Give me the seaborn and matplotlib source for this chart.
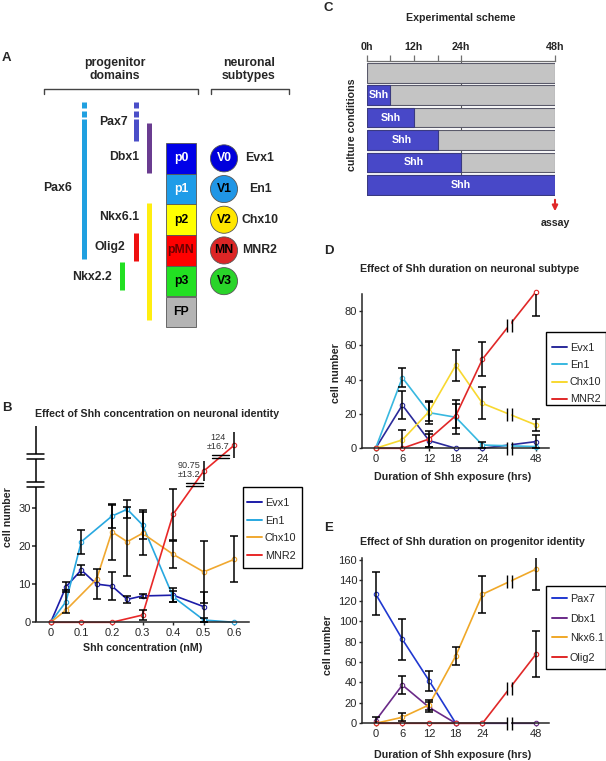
import matplotlib
matplotlib.use("Agg")
import matplotlib.pyplot as plt
from matplotlib.lines import Line2D
from matplotlib.patches import Rectangle, FancyArrowPatch
from matplotlib.transforms import blended_transform_factory
import numpy as np
import pandas as pd
import seaborn as sns

nan = np.nan

# ---------------- data -------------------------------------------------
# A: progenitor domains and neuronal subtypes
domains = ["p0", "p1", "p2", "pMN", "p3", "FP"]
domain_colors = ["#0000e8", "#1e9ce8", "#ffff00", "#ff0000", "#22e022", "#b4b4b4"]
domain_text_colors = ["white", "white", "black", "#6a0000", "black", "black"]
subtypes = ["V0", "V1", "V2", "MN", "V3"]
subtype_colors = ["#0000dc", "#2096e6", "#ffe600", "#dc2626", "#2ad42a"]
subtype_text_colors = ["white", "black", "black", "black", "black"]
subtype_genes = ["Evx1", "En1", "Chx10", "MNR2"]
genes = ["Pax6", "Pax7", "Dbx1", "Nkx6.1", "Olig2", "Nkx2.2"]
gene_start = [-1.34, -1.34, -0.65, 1.95, 2.93, 3.88]   # in domain rows, p0 = 0
gene_end = [3.78, -0.07, 0.98, 5.77, 3.84, 4.79]
gene_colors = ["#20a0e0", "#4a4ec8", "#6a3c90", "#ffee10", "#ee1010", "#22e022"]
gene_fading = [True, True, False, False, False, False]

# B: Shh concentration
shh_conc = [0, 0.05, 0.1, 0.15, 0.2, 0.25, 0.3, 0.4, 0.5, 0.6]
evx1_b = [0, 9.3, 13.7, 10.0, 9.5, 6.0, 6.9, 7.1, 4.1, nan]
evx1_b_err = [0, 1.3, 1.2, 4.0, 3.6, 1.0, 0.6, 1.8, 3.9, nan]
en1_b = [0, 5.4, 21.1, nan, 27.8, 29.6, 25.5, 6.7, 0.6, 0]
en1_b_err = [0, 3.0, 3.1, nan, 3.0, 2.4, 3.8, 1.5, 0.5, 0]
chx10_b = [0, 3.2, nan, 11.3, 23.7, 21.1, 23.3, 17.8, 13.2, 16.5]
chx10_b_err = [0, 0, nan, 0, 7.3, 9.0, 5.6, 3.5, 8.2, 6.0]
mnr2_b = [0, nan, 0, nan, 0, nan, 1.9, 28.3, 90.75, 124]
mnr2_b_err = [0, nan, 0, nan, 0, nan, 1.3, 6.7, 13.2, 16.7]

# C: scheme
shh_duration = [0, 6, 12, 18, 24, 48]
scheme_ticks = [0, 6, 12, 18, 24, 48]
scheme_labels = ["0h", "", "12h", "", "24h", "48h"]

# D: duration -> neuronal subtype
hours = [0, 6, 12, 18, 24, 48]
evx1_d = [0, 25.2, 4.5, 0, 0, 3.9]
evx1_d_err = [0, 8.0, 4.0, 0, 0, 3.9]
en1_d = [0, 41.2, 20.8, 18.1, 1.9, 1.0]
en1_d_err = [0, 5.6, 6.5, 10.0, 1.7, 0]
chx10_d = [0, 4.9, 21.4, 48.5, 26.2, 13.6]
chx10_d_err = [0, 6.0, 5.5, 9.0, 9.3, 3.4]
mnr2_d = [0, 0, 5.4, 19.0, 52.0, 91.3]
mnr2_d_err = [0, 0, 4.5, 7.0, 9.8, 14.0]

# E: duration -> progenitor identity
pax7_e = [126.7, 82.3, 41.8, 0, nan, nan]
pax7_e_err = [21, 20, 9.8, 0, nan, nan]
dbx1_e = [2.6, 37.5, 15.7, 0, 0, 0]
dbx1_e_err = [4.0, 8.5, 5.0, 0, 0, 0]
nkx61_e = [0, 5.9, 18.0, 66.0, 126.4, 150.9]
nkx61_e_err = [0, 4.0, 5.0, 8.5, 18.3, 20.3]
olig2_e = [0, 0, 0, 0, 0, 67.6]
olig2_e_err = [0, 0, 0, 0, 0, 22.5]

# ---------------- setup -------------------------------------------------
sns.set_style("ticks")
plt.rcParams["font.family"] = ["Liberation Sans", "DejaVu Sans"]

W, H = 606, 761
fig = plt.figure(figsize=(W / 100, H / 100), dpi=100)


def fx(x):
    return x / W


def fy(y):
    return 1 - y / H


def px_axes(x0, y0, x1, y1):
    return fig.add_axes([fx(x0), fy(y1), (x1 - x0) / W, (y1 - y0) / H])


def ftext(x, y, s, **kw):
    kw.setdefault("ha", "center")
    kw.setdefault("va", "center")
    fig.text(fx(x), fy(y), s, **kw)


def fig_seg(p0, p1, **kw):
    inv = fig.transFigure.inverted()
    (a, b), (c, d) = inv.transform([p0, p1])
    fig.add_artist(Line2D([a, c], [b, d], transform=fig.transFigure, **kw))


def break_marks(ax, x, y, half=6.5, gap=2.6):
    px, py = ax.transData.transform((x, y))
    fig_seg((px, py - half), (px, py + half), color="white", lw=gap * 1.3 * 0.72,
            solid_capstyle="butt", zorder=5)
    for s in (-1, 1):
        fig_seg((px + s * gap, py - half), (px + s * gap, py + half), color="black",
                lw=1.0, solid_capstyle="butt", zorder=6)


def legend_box(ax, names, colors, x0, y0, x1, y1, lx, ly, spacing):
    handles = [Line2D([], [], color=c, lw=1.4) for c in colors]
    ax.legend(handles, names, loc="upper left", bbox_to_anchor=(fx(lx), fy(ly)),
              bbox_transform=fig.transFigure, frameon=False, fontsize=7.8,
              handlelength=1.4, handletextpad=0.25, labelspacing=spacing,
              borderpad=0, borderaxespad=0)
    fig.add_artist(Rectangle((fx(x0), fy(y1)), (x1 - x0) / W, (y1 - y0) / H,
                             transform=fig.transFigure, fill=False, ec="black", lw=1.0))


def draw_series(ax, xs, vals, errs, color, cap=True):
    d = pd.DataFrame({"x": xs, "n": vals}).dropna()
    sns.lineplot(data=d, x="x", y="n", ax=ax, color=color, lw=1.2, errorbar=None,
                 marker="o", markersize=3.2, markerfacecolor="white",
                 markeredgecolor=color, markeredgewidth=0.8, clip_on=False, zorder=2)
    xs, vals, errs = np.asarray(xs, float), np.asarray(vals, float), np.asarray(errs, float)
    m = np.nan_to_num(errs) > 0
    if m.any():
        ax.errorbar(xs[m], vals[m], yerr=errs[m], fmt="none", ecolor="black",
                    elinewidth=1.1, capsize=3.2 if cap else 0, capthick=1.1, zorder=3)


bold = dict(fontweight="bold", fontsize=7.7)

# ---------------- panel letters ---------------------------------------------
for letter, x, y in [("A", 2, 58), ("B", 2, 408), ("C", 324, 8), ("D", 324, 251), ("E", 324, 528)]:
    ftext(x, y, letter, ha="left", fontweight="bold", fontsize=9.5)

# ---------------- A -------------------------------------------------------
axA = px_axes(0, 50, 300, 335)
axA.set_xlim(0, 300)
axA.set_ylim((335 - 143) / 30.7, (50 - 143) / 30.7)
axA.axis("off")
fsA = 8.8

rows = np.arange(len(domains))
axA.bar([181] * len(domains), [1] * len(domains), width=30, bottom=rows, align="center",
        color=domain_colors, edgecolor="#555555", lw=0.6)
for i, name in enumerate(domains):
    axA.text(181, i + 0.5, name, ha="center", va="center", color=domain_text_colors[i],
             fontweight="bold", fontsize=fsA)

axA.scatter([224] * len(subtypes), np.arange(len(subtypes)) + 0.5, s=380, c=subtype_colors,
            edgecolors="#555555", linewidths=0.6, zorder=3)
for i, name in enumerate(subtypes):
    axA.text(224, i + 0.5, name, ha="center", va="center", color=subtype_text_colors[i],
             fontweight="bold", fontsize=fsA, zorder=4)
for i, name in enumerate(subtype_genes):
    axA.text(260, i + 0.5, name, ha="center", va="center", fontweight="bold", fontsize=fsA)

gene_x = [84, 136, 149, 149, 136, 122]
label_x = [58, 128, 139, 139, 125, 112]
label_y = [1.47, -0.68, 0.46, 2.41, 3.39, 4.36]
for i, g in enumerate(genes):
    s, e = gene_start[i], gene_end[i]
    if gene_fading[i]:
        segs = [(s, s + 0.195), (s + 0.29, s + 0.49), (s + 0.55, e)]
    else:
        segs = [(s, e)]
    for a, b in segs:
        axA.vlines(gene_x[i], a, b, colors=gene_colors[i], lw=3.6)
    axA.text(label_x[i], label_y[i], g, ha="center" if i == 0 else "right", va="center",
             fontweight="bold", fontsize=fsA)

for (x0, x1), txt, cx in [((44, 198), "progenitor\ndomains", 115),
                          ((211, 289), "neuronal\nsubtypes", 249)]:
    axA.plot([x0, x0, x1, x1], [-1.6, -1.76, -1.76, -1.6], color="#444444", lw=1.0)
    axA.text(cx, -2.38, txt, ha="center", va="center", fontweight="bold", fontsize=fsA,
             linespacing=1.12)

# ---------------- B -------------------------------------------------------
BREAK_AT, BREAK_SCALE, BREAK_OFFSET = 35, 0.2045, 21.04


def squash(v):
    v = np.asarray(v, float)
    return np.where(v > BREAK_AT, BREAK_OFFSET + BREAK_SCALE * v, v)


axB = px_axes(36, 426, 249, 622.3)
axB.set_xlim(-0.048, 0.648)
axB.set_ylim(0, 51.4)

colors_b = ["#1c1ca8", "#28a8e0", "#f0a830", "#e82828"]
draw_series(axB, shh_conc, evx1_b, evx1_b_err, colors_b[0])
draw_series(axB, shh_conc, en1_b, en1_b_err, colors_b[1])
draw_series(axB, shh_conc, chx10_b, chx10_b_err, colors_b[2])

mnr2_arr = np.asarray(mnr2_b, float)
mnr2_err = np.asarray(mnr2_b_err, float)
low = np.nan_to_num(mnr2_arr) <= BREAK_AT
draw_series(axB, shh_conc, squash(mnr2_arr), np.where(low, mnr2_err, 0), colors_b[3])
xs_b = np.asarray(shh_conc, float)
hi = ~low
axB.vlines(xs_b[hi], squash(mnr2_arr[hi]) - BREAK_SCALE * mnr2_err[hi],
           squash(mnr2_arr[hi]) + BREAK_SCALE * mnr2_err[hi], color="black", lw=1.1,
           clip_on=False, zorder=3)
ok = ~np.isnan(mnr2_arr) & (xs_b >= 0.3)
for lo_y, hi_y in [(35.4, 36.7), (42.7, 44.0)]:
    mid = (lo_y + hi_y) / 2
    cx = np.interp(mid, squash(mnr2_arr[ok]), xs_b[ok])
    for yy in (mid - 0.35, mid + 0.35):
        axB.plot([cx - 0.028, cx + 0.028], [yy, yy], color="black", lw=1.0, zorder=4,
                 clip_on=False)
axB.text(0.489, 39.9, "90.75\n±13.2", ha="right", va="center", fontsize=6.6,
         color="#333333", linespacing=1.1)
axB.text(0.547, 47.2, "124\n±16.7", ha="center", va="center", fontsize=6.6,
         color="#333333", linespacing=1.1)

# manual broken y axis
trB = blended_transform_factory(axB.transAxes, axB.transData)
for a, b in [(0, 35.4), (36.7, 42.7), (44.0, 51.4)]:
    axB.plot([0, 0], [a, b], color="black", lw=1.1, transform=trB, clip_on=False,
             solid_capstyle="butt")
for yy in (35.4, 36.7, 42.7, 44.0):
    axB.plot([-0.042, 0.038], [yy, yy], color="black", lw=1.1, transform=trB, clip_on=False)

sns.despine(ax=axB, left=True)
axB.spines["bottom"].set_linewidth(1.1)
axB.set_xticks([0, 0.1, 0.2, 0.3, 0.4, 0.5, 0.6])
axB.set_xticklabels(["0", "0.1", "0.2", "0.3", "0.4", "0.5", "0.6"])
axB.set_yticks([0, 10, 20, 30])
axB.tick_params(axis="x", length=2, width=1.0, labelsize=8, pad=2)
axB.tick_params(axis="y", length=3, width=1.1, labelsize=8, pad=1)
axB.set_xlabel("")
axB.set_ylabel("")
legend_box(axB, ["Evx1", "En1", "Chx10", "MNR2"], colors_b, 243, 487, 302, 568, 247, 498, 0.7)
ftext(157, 414, "Effect of Shh concentration on neuronal identity", **bold)
ftext(143, 648, "Shh concentration (nM)", **bold)
ftext(8, 517, "cell number", rotation=90, **bold)

# ---------------- C -------------------------------------------------------
axC = px_axes(367, 61, 555, 196)
axC.set_xlim(0, 48)
axC.set_ylim(5.5, -0.525)
rows_c = np.arange(len(shh_duration))
axC.axvline(24, color="#555555", lw=0.8, zorder=0)
axC.barh(rows_c, [48] * len(rows_c), height=0.87, color="#c4c4c4", edgecolor="#5a5a6a",
         lw=0.8, zorder=1)
dur = np.asarray(shh_duration, float)
m = dur > 0
axC.barh(rows_c[m], dur[m], height=0.87, color="#4848c8", edgecolor="#3a3a80", lw=0.8, zorder=2)
for r, d in zip(rows_c[m], dur[m]):
    axC.text(d / 2, r, "Shh", ha="center", va="center", color="white", zorder=3, **bold)
for side in ["left", "right", "bottom"]:
    axC.spines[side].set_visible(False)
axC.spines["top"].set_color("#707070")
axC.spines["top"].set_linewidth(0.9)
axC.xaxis.tick_top()
axC.set_xticks(scheme_ticks)
axC.set_xticklabels(scheme_labels)
axC.set_yticks([])
axC.tick_params(axis="x", direction="out", length=4.5, width=0.9, color="#707070",
                labelsize=7.7, pad=2)
for t in axC.get_xticklabels():
    t.set_fontweight("bold")
ftext(461, 18, "Experimental scheme", **bold)
ftext(352, 125, "culture conditions", rotation=90, **bold)
fig.add_artist(FancyArrowPatch((fx(555), fy(197)), (fx(555), fy(214)),
               transform=fig.transFigure, arrowstyle="-|>", mutation_scale=8,
               color="#e02828", lw=1.5))
ftext(555, 223, "assay", **bold)


# ---------------- D / E ---------------------------------------------------
def hour_pos(h):
    h = np.asarray(h, float)
    return np.where(h <= 24, h / 6, 6)


pos = hour_pos(hours)


def duration_axes(box, ylim, yticks):
    ax = px_axes(*box)
    ax.set_xlim(-0.51, 6.49)
    ax.set_ylim(*ylim)
    sns.despine(ax=ax)
    for s in ["left", "bottom"]:
        ax.spines[s].set_linewidth(1.1)
    ax.set_xticks(pos)
    ax.set_xticklabels([str(h) for h in hours])
    ax.set_yticks(yticks)
    ax.tick_params(axis="x", length=2, width=1.0, labelsize=8, pad=2)
    ax.tick_params(axis="y", length=2.5, width=1.0, labelsize=8, pad=1)
    return ax


axD = duration_axes((362, 294, 549, 448.3), (0, 90), [0, 20, 40, 60, 80])
colors_d = ["#2a2a9a", "#38b8e0", "#f8d830", "#e02828"]
for vals, errs, c in [(evx1_d, evx1_d_err, colors_d[0]), (en1_d, en1_d_err, colors_d[1]),
                      (chx10_d, chx10_d_err, colors_d[2]), (mnr2_d, mnr2_d_err, colors_d[3])]:
    draw_series(axD, pos, vals, errs, c)
axD.set_xlabel("")
axD.set_ylabel("")
legend_box(axD, ["Evx1", "En1", "Chx10", "MNR2"], colors_d, 546, 332, 605.5, 405, 552, 343, 0.66)
for v in (mnr2_d, chx10_d):
    break_marks(axD, 5, (v[4] + v[5]) / 2)
break_marks(axD, 5, 0)
ftext(470, 269, "Effect of Shh duration on neuronal subtype", **bold)
ftext(453, 477, "Duration of Shh exposure (hrs)", **bold)
ftext(336, 373, "cell number", rotation=90, **bold)

axE = duration_axes((362, 558.3, 549, 723.3), (0, 161.6), [0, 20, 40, 60, 80, 100, 120, 140, 160])
colors_e = ["#2038d0", "#6a2a88", "#f0a828", "#e02828"]
for vals, errs, c in [(pax7_e, pax7_e_err, colors_e[0]), (dbx1_e, dbx1_e_err, colors_e[1]),
                      (nkx61_e, nkx61_e_err, colors_e[2]), (olig2_e, olig2_e_err, colors_e[3])]:
    draw_series(axE, pos, vals, errs, c)
axE.set_xlabel("")
axE.set_ylabel("")
legend_box(axE, ["Pax7", "Dbx1", "Nkx6.1", "Olig2"], colors_e, 546, 586, 605.5, 669, 552, 594, 0.88)
for v in (nkx61_e, olig2_e):
    break_marks(axE, 5, (v[4] + v[5]) / 2)
break_marks(axE, 5, 0)
ftext(472, 542, "Effect of Shh duration on progenitor identity", **bold)
ftext(453, 755, "Duration of Shh exposure (hrs)", **bold)
ftext(328, 645, "cell number", rotation=90, **bold)

fig.savefig("out.png", dpi=100)
